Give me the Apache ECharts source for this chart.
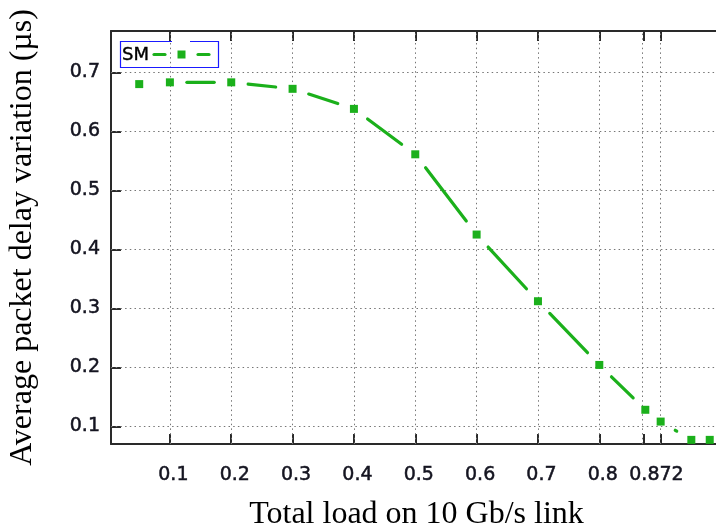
<!DOCTYPE html>
<html>
<head>
<meta charset="utf-8">
<script src="https://cdn.jsdelivr.net/npm/echarts@6/dist/echarts.min.js"></script>
<style>
  html, body { margin: 0; padding: 0; background: #fff; }
  #chart { width: 716px; height: 532px; }
</style>
</head>
<body>
<div id="chart"></div>
<script>
// Offered load (fraction of a 10 Gb/s link) and measured average packet delay variation (µs)
const loads = [0.05, 0.1, 0.2, 0.3, 0.4, 0.5, 0.6, 0.7, 0.8, 0.875, 0.9, 0.95, 0.98];
const pdv   = [0.680, 0.683, 0.683, 0.672, 0.638, 0.561, 0.425, 0.312, 0.204, 0.128, 0.108, 0.077, 0.077];

// Axis ticks, labels and grid positions
const xTickValues  = [0.1, 0.2, 0.3, 0.4, 0.5, 0.6, 0.7, 0.8, 0.872, 0.9];
const xLabelValues = [0.1, 0.2, 0.3, 0.4, 0.5, 0.6, 0.7, 0.8, 0.872];
const yTickValues  = [0.1, 0.2, 0.3, 0.4, 0.5, 0.6, 0.7];

const seriesName = 'SM';
const GREEN = '#1bb01b';
const AXIS = '#2a2a2a';
const TEXT = '#141420';
const GAP = 17; // blank radius left around each point on the connecting line

const segments = loads.slice(0, -1).map((x, i) => [x, pdv[i], loads[i + 1], pdv[i + 1]]);

const gridLine = { color: '#767676', width: 1, type: [1.5, 3.2] };
const markGrid = [
  ...xTickValues.map(v => ({ xAxis: v })),
  ...yTickValues.map(v => ({ yAxis: v }))
];

// slightly heavier sans tick labels
const labelFont = {
  fontFamily: 'DejaVu Sans', fontSize: 19, color: TEXT,
  textBorderColor: TEXT, textBorderWidth: 0.5
};

const chart = echarts.init(document.getElementById('chart'), null, { renderer: 'canvas' });
chart.setOption({
  animation: false,
  backgroundColor: '#fff',
  grid: { left: 111, top: 31, right: -6, bottom: 88, outerBoundsMode: 'none', containLabel: false },
  xAxis: [{
    type: 'value', position: 'bottom', min: 0.004, max: 1.0,
    name: 'Total load on 10 Gb/s link', nameLocation: 'middle', nameGap: 55,
    nameTextStyle: { fontFamily: 'Liberation Serif', fontSize: 32, color: '#000' },
    axisLine: { show: true, lineStyle: { color: AXIS, width: 2 } },
    axisTick: { show: true, inside: true, length: 10, customValues: xTickValues, lineStyle: { color: AXIS, width: 2 } },
    axisLabel: {
      show: true, margin: 22, customValues: xLabelValues,
      // labels sit a little right of their ticks; 0.872 is pushed clear of 0.8
      formatter: v => (v === 0.872 ? '{far|' : '{std|') + String(v) + '}',
      rich: {
        std: { ...labelFont, padding: [0, 0, 0, 7] },
        far: { ...labelFont, padding: [0, 0, 0, 26] }
      },
      ...labelFont
    },
    splitLine: { show: false }
  }, {
    type: 'value', position: 'top', min: 0.004, max: 1.0,
    axisLine: { show: true, lineStyle: { color: AXIS, width: 2 } },
    axisTick: { show: true, inside: true, length: 10, customValues: xTickValues, lineStyle: { color: AXIS, width: 2 } },
    axisLabel: { show: false },
    splitLine: { show: false }
  }],
  yAxis: [{
    type: 'value', position: 'left', min: 0.07, max: 0.77,
    name: 'Average packet delay variation (µs)', nameLocation: 'middle', nameGap: 72, nameRotate: 90,
    nameTextStyle: { fontFamily: 'Liberation Serif', fontSize: 32, color: '#000' },
    axisLine: { show: true, lineStyle: { color: AXIS, width: 2 } },
    axisTick: { show: true, inside: true, length: 10, customValues: yTickValues, lineStyle: { color: AXIS, width: 2 } },
    axisLabel: { show: true, margin: 11, customValues: yTickValues, formatter: v => v.toFixed(1), ...labelFont },
    splitLine: { show: false }
  }],
  series: [{
    // dotted background grid
    type: 'line', xAxisIndex: 0, yAxisIndex: 0, data: [], z: 1, silent: true,
    markLine: {
      silent: true, symbol: 'none', label: { show: false }, z: 1,
      lineStyle: gridLine, emphasis: { disabled: true },
      data: markGrid
    }
  }, {
    // connecting line, broken around every point
    type: 'custom', name: seriesName, xAxisIndex: 0, yAxisIndex: 0, z: 3,
    data: segments,
    encode: { x: [0, 2], y: [1, 3] },
    renderItem(params, api) {
      const a = api.coord([api.value(0), api.value(1)]);
      const b = api.coord([api.value(2), api.value(3)]);
      const dx = b[0] - a[0], dy = b[1] - a[1];
      const len = Math.hypot(dx, dy);
      if (len <= 2 * GAP) return null;
      const ux = dx / len, uy = dy / len;
      return {
        type: 'line',
        shape: { x1: a[0] + ux * GAP, y1: a[1] + uy * GAP, x2: b[0] - ux * GAP, y2: b[1] - uy * GAP },
        style: { stroke: GREEN, lineWidth: 3.2, lineCap: 'round' }
      };
    }
  }, {
    type: 'scatter', name: seriesName, xAxisIndex: 0, yAxisIndex: 0, z: 4,
    symbol: 'rect', symbolSize: 8,
    itemStyle: { color: GREEN, opacity: 1 },
    data: loads.map((x, i) => [x, pdv[i]])
  }],
  graphic: [
    // key box
    { type: 'polyline', silent: true, z: 10,
      shape: { points: [[172, 41.5], [120.5, 41.5], [120.5, 67.5], [218.5, 67.5], [218.5, 41.5], [190, 41.5]] },
      style: { stroke: '#1a1aff', lineWidth: 1.2, fill: null } },
    { type: 'text', silent: true, z: 10, x: 122, y: 55,
      style: { text: seriesName, fontFamily: 'DejaVu Sans', fontSize: 18, fill: '#000',
               stroke: '#000', lineWidth: 0.4, verticalAlign: 'middle' } },
    { type: 'line', silent: true, z: 10, shape: { x1: 154, y1: 54.5, x2: 165, y2: 54.5 },
      style: { stroke: GREEN, lineWidth: 3.2, lineCap: 'round' } },
    { type: 'rect', silent: true, z: 10, shape: { x: 177.5, y: 50.5, width: 8, height: 8 },
      style: { fill: GREEN } },
    { type: 'line', silent: true, z: 10, shape: { x1: 198, y1: 54.5, x2: 209, y2: 54.5 },
      style: { stroke: GREEN, lineWidth: 3.2, lineCap: 'round' } }
  ]
});
</script>
</body>
</html>
